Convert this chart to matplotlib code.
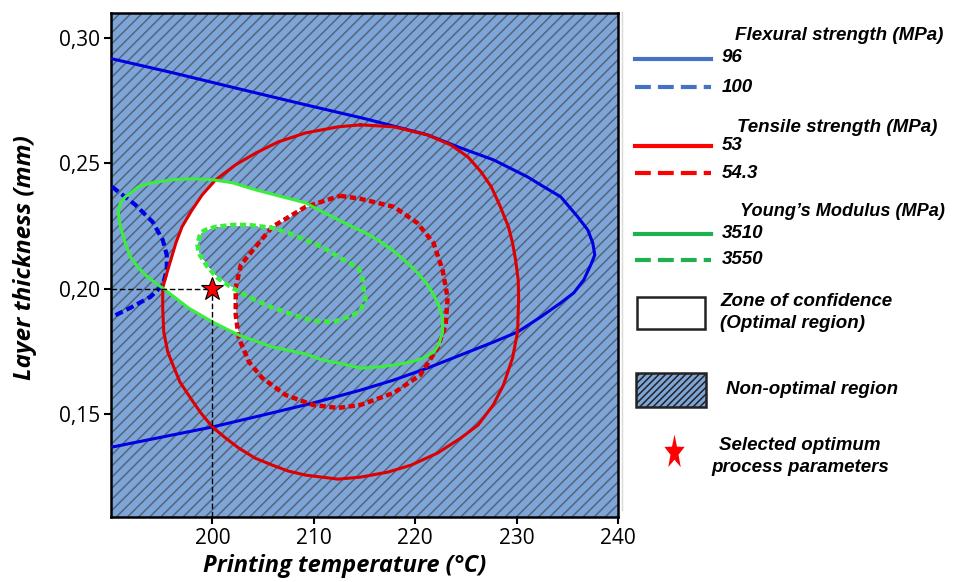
import numpy as np
import matplotlib
matplotlib.use("Agg")
import matplotlib.pyplot as plt
from matplotlib.patches import Rectangle
from matplotlib.path import Path

# contour lines (temperature in C, layer thickness in mm)
flex96_T = [190.13, 196.05, 202.57, 209.18, 215.10, 221.22, 224.48, 227.74, 231.10, 232.68, 234.35, 236.03,
            237.02, 237.51, 237.71, 237.32, 236.63, 235.64, 234.35, 232.38, 230.11, 227.74, 224.48, 221.22,
            217.87, 214.61, 209.87, 204.93, 200.00, 195.06, 190.13]
flex96_h = [0.2917, 0.2862, 0.2798, 0.2734, 0.2678, 0.2614, 0.2562, 0.2514, 0.2446, 0.2407, 0.2367, 0.2287,
            0.2235, 0.2183, 0.2135, 0.2096, 0.2036, 0.1984, 0.1944, 0.1888, 0.1828, 0.1788, 0.1736, 0.1684,
            0.1636, 0.1596, 0.1544, 0.1496, 0.1449, 0.1409, 0.1369]

flex100_T = [190.1, 192.4, 194.1, 195.1, 195.5, 195.5, 195.1, 193.9, 191.9, 190.1]
flex100_h = [0.2407, 0.2335, 0.2267, 0.2195, 0.2135, 0.2075, 0.2015, 0.1968, 0.1924, 0.1888]

tens53_T = [214.6, 217.9, 221.2, 223.5, 225.2, 226.5, 227.5, 228.4, 229.2, 229.6, 229.9, 230.16, 230.2,
            230.1, 229.6, 228.7, 227.7, 226.2, 224.5, 222.2, 219.6, 217.3, 214.6, 212.4, 209.2, 207.5,
            205.9, 204.2, 202.6, 201.3, 200.0, 198.86, 197.83, 196.8, 196.1, 195.6, 195.2, 195.1, 195.1,
            195.6, 196.4, 197.0, 198.0, 199.0, 200.3, 202.3, 204.3, 206.5, 209.2, 212.4, 214.6]
tens53_h = [0.2654, 0.2646, 0.2614, 0.2574, 0.2526, 0.2466, 0.2407, 0.2327, 0.2247, 0.2183, 0.2115, 0.2035, 0.1964,
            0.1828, 0.1724, 0.1616, 0.1537, 0.1457, 0.1405, 0.1345, 0.1297, 0.1269, 0.1249, 0.1241, 0.1257, 0.1273,
            0.1297, 0.1325, 0.1365, 0.1405, 0.1449, 0.1505, 0.1565, 0.1628, 0.1697, 0.1748, 0.1828, 0.1924, 0.2004,
            0.2075, 0.2183, 0.2247, 0.2315, 0.2375, 0.2434, 0.2495, 0.2542, 0.2586, 0.2622, 0.2646, 0.2654]

tens543_T = [212.6, 214.6, 217.9, 220.2, 221.8, 222.7, 223.2, 223.0, 222.2, 220.5, 217.9, 214.6,
             212.4, 209.9, 207.2, 204.9, 203.6, 202.6, 202.3, 202.3, 202.8, 204.0, 205.9, 209.2, 212.6]
tens543_h = [0.2371, 0.2359, 0.2327, 0.2263, 0.2183, 0.2075, 0.1964, 0.1856, 0.1764, 0.1656, 0.1585, 0.1537,
             0.1525, 0.1537, 0.1577, 0.1645, 0.1709, 0.1804, 0.1896, 0.2004, 0.2095, 0.2155, 0.2247, 0.2327, 0.2371]

young3510_T = [190.72, 190.92, 191.41, 192.10, 192.69, 194.08, 196.05, 198.02, 200.00, 201.97, 204.24, 206.51,
               209.18, 210.86, 212.44, 213.82, 215.10, 216.29, 217.87, 219.25, 220.24, 221.22, 221.81, 222.31,
               222.70, 222.70, 222.31, 221.81, 220.83, 219.55, 217.87, 216.29, 214.61, 212.44, 210.86, 209.18,
               205.92, 202.57, 200.00, 197.63, 196.35, 195.06, 193.68, 192.69, 191.90, 191.41, 190.92, 190.72]
young3510_h = [0.2303, 0.2343, 0.2367, 0.2387, 0.2407, 0.2423, 0.2435, 0.2439, 0.2435, 0.2423, 0.2395, 0.2371,
               0.2343, 0.2307, 0.2275, 0.2247, 0.2223, 0.2195, 0.2151, 0.2103, 0.2064, 0.2016, 0.1976, 0.1936,
               0.1884, 0.1828, 0.1776, 0.1748, 0.1724, 0.1708, 0.1696, 0.1688, 0.1684, 0.1704, 0.1716, 0.1740,
               0.1768, 0.1816, 0.1868, 0.1924, 0.1964, 0.2004, 0.2044, 0.2084, 0.2128, 0.2183, 0.2247, 0.2303]

young3550_T = [198.62, 198.82, 199.31, 200.30, 201.97, 203.55, 205.92, 207.50, 209.18, 210.86, 212.44, 214.41,
               214.81, 214.91, 215.10, 214.61, 213.92, 211.95, 209.97, 207.99, 205.72, 203.75, 201.78, 200.49,
               199.50, 198.62, 198.52, 198.62]
young3550_h = [0.2192, 0.2223, 0.2235, 0.2247, 0.2255, 0.2255, 0.2243, 0.2223, 0.2195, 0.2167, 0.2127, 0.2084,
               0.2039, 0.1996, 0.1956, 0.1916, 0.1896, 0.1868, 0.1872, 0.1896, 0.1928, 0.1964, 0.2008, 0.2044,
               0.2088, 0.2144, 0.2184, 0.2192]

opt_T, opt_h = 200.0, 0.20

x_ticks = [200, 210, 220, 230, 240]
y_ticks = [0.15, 0.20, 0.25, 0.30]

BLUE, RED, GREEN = '#0000e0', '#dd0000', '#3ded3d'
BG, HATCH = '#7da5d8', '#55647a'

plt.rcParams['hatch.linewidth'] = 1.1
plt.rcParams['font.family'] = 'Open Sans'

fig = plt.figure(figsize=(9.54, 5.82), dpi=100)
ax = fig.add_axes([111/954, 65/582, 507/954, 504/582])
ax.set_xlim(190, 240)
ax.set_ylim(0.109, 0.310)

# hatched non-optimal background
ax.add_patch(Rectangle((0, 0), 1, 1, transform=ax.transAxes, facecolor=BG,
                       edgecolor=HATCH, hatch='///', lw=0, zorder=0))

# zone of confidence = inside 53 & 3510, outside 54.3 & 3550
TT, HH = np.meshgrid(np.linspace(190, 240, 1200), np.linspace(0.109, 0.310, 1200))
pts = np.column_stack([TT.ravel(), HH.ravel()])
def inside(xs, ys):
    return Path(np.column_stack([xs, ys])).contains_points(pts).reshape(TT.shape)
mask = (inside(tens53_T, tens53_h) & ~inside(tens543_T, tens543_h)
        & inside(young3510_T, young3510_h) & ~inside(young3550_T, young3550_h))
ax.contourf(TT, HH, mask.astype(float), levels=[0.5, 1.5], colors='white', zorder=1)

ax.plot(flex96_T, flex96_h, color=BLUE, lw=2.2, zorder=3)
ax.plot(flex100_T, flex100_h, color=BLUE, lw=3, ls=(0, (1.9, 1.0)), zorder=3)
ax.plot(tens53_T, tens53_h, color=RED, lw=2.2, zorder=3)
ax.plot(tens543_T, tens543_h, color=RED, lw=3.2, ls=(0, (1.4, 0.8)), zorder=3)
ax.plot(young3510_T, young3510_h, color=GREEN, lw=2.2, zorder=3)
ax.plot(young3550_T, young3550_h, color=GREEN, lw=3.2, ls=(0, (1.4, 0.8)), zorder=3)

# crosshair to optimum
ax.plot([190, opt_T], [opt_h, opt_h], color='black', lw=1, ls=(0, (4, 2)), zorder=4)
ax.plot([opt_T, opt_T], [0.109, opt_h], color='black', lw=1, ls=(0, (4, 2)), zorder=4)
ax.plot(opt_T, opt_h, marker='*', ms=17, color='red', mec='black', mew=0.8, zorder=5)

ax.set_xticks(x_ticks)
ax.set_yticks(y_ticks)
ax.set_yticklabels([f'{v:.2f}'.replace('.', ',') for v in y_ticks])
ax.tick_params(direction='out', length=5, width=1.5, labelsize=15, pad=3)
for s in ax.spines.values():
    s.set_linewidth(1.8)

fig.text(345/954, 1 - 566/582, 'Printing temperature (°C)', ha='center', va='center',
         fontsize=17, fontweight='bold', style='italic')
fig.text(25/954, 1 - 258/582, 'Layer thickness (mm)', ha='center', va='center', rotation=90,
         fontsize=17.5, fontweight='bold', style='italic')

# legend panel in pixel coordinates
lax = fig.add_axes([618/954, 0, 336/954, 1])
lax.set_xlim(618, 954)
lax.set_ylim(582, 0)
lax.axis('off')
lax.plot([622, 622], [12, 510], color='#d8d8d8', lw=1)
lf = dict(fontsize=13.5, fontweight='bold', style='italic', family='Liberation Sans', va='center')

lax.text(735, 35, 'Flexural strength (MPa)', **lf)
lax.plot([635, 711], [59, 59], color='#4472c4', lw=3)
lax.text(722, 58, '96', **lf)
lax.plot([635, 711], [87, 87], color='#4472c4', lw=3, ls=(0, (3.8, 1.7)))
lax.text(722, 87, '100', **lf)

lax.text(737, 127, 'Tensile strength (MPa)', **lf)
lax.plot([635, 711], [146, 146], color='#ff0000', lw=3)
lax.text(722, 145, '53', **lf)
lax.plot([635, 711], [173, 173], color='#ff0000', lw=3, ls=(0, (3.8, 1.7)))
lax.text(722, 173, '54.3', **lf)

lax.text(740, 212, 'Young\u2019s Modulus (MPa)', **{**lf, 'fontsize': 13.1})
lax.plot([635, 711], [234, 234], color='#1fb04f', lw=3)
lax.text(722, 233, '3510', **lf)
lax.plot([635, 711], [260, 260], color='#1fb04f', lw=3, ls=(0, (3.8, 1.7)))
lax.text(722, 260, '3550', **lf)

lax.add_patch(Rectangle((637, 297), 68, 32, facecolor='white', edgecolor='#222222', lw=1.8))
lax.text(720, 301, 'Zone of confidence', **lf)
lax.text(720, 323, '(Optimal region)', **lf)

lax.add_patch(Rectangle((636, 373), 70, 34, facecolor=BG, edgecolor='#222222', lw=1.8, hatch='/////'))
lax.text(726, 389, 'Non-optimal region', **lf)

star = np.array([[np.sin(a) * r, np.cos(a) * r * 1.7]
                 for a, r in zip(np.linspace(0, 2 * np.pi, 11)[:-1], [1, 0.4] * 5)])
lax.plot(674, 452, marker=Path(np.vstack([star, star[:1]]), closed=True), ms=26, color='red', mew=0)
lax.text(800, 445, 'Selected optimum', ha='center', **lf)
lax.text(800, 468, 'process parameters', ha='center', **lf)

fig.savefig('out.png', dpi=100)
